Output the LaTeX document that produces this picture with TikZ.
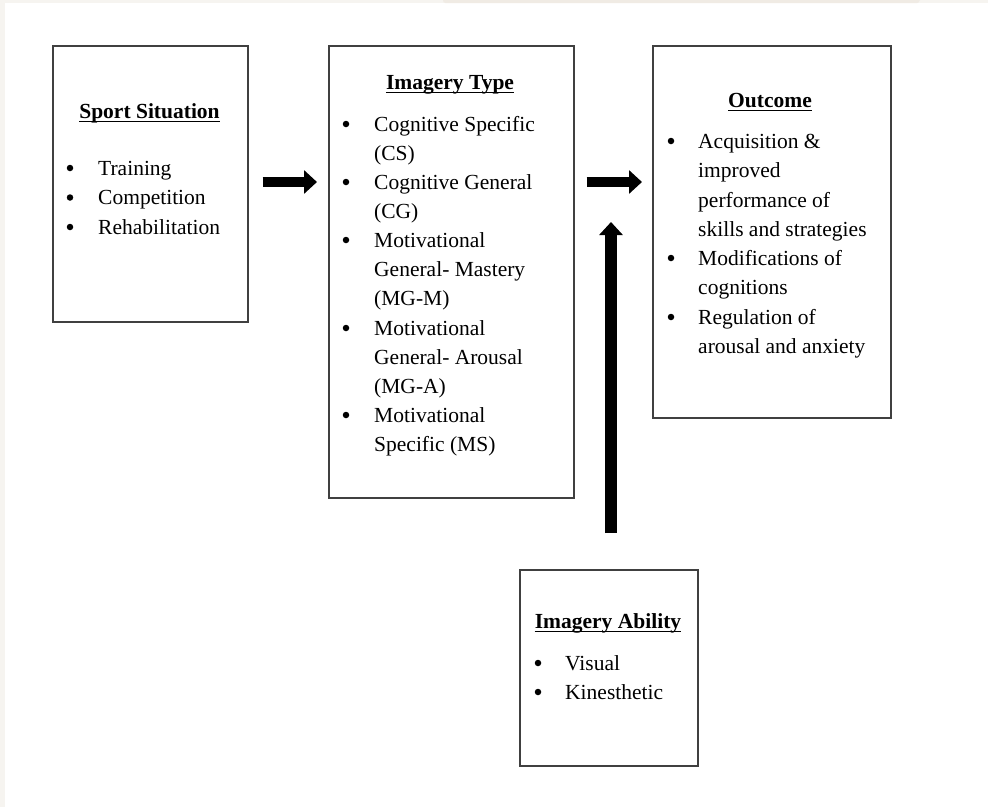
\documentclass[tikz,border=0pt]{standalone}
\usepackage{fontspec}
\setmainfont{Liberation Serif}
\usetikzlibrary{arrows.meta}
\definecolor{edge}{HTML}{F6F4F0}
\definecolor{tabc}{HTML}{F0EBE4}

\begin{document}
\begin{tikzpicture}[x=1pt,y=-1pt,
  box/.style={draw=black!75, line width=1.7pt, fill=white, anchor=north west, inner sep=0pt},
  txt/.style={anchor=base west, inner sep=0pt, font=\fontsize{21.5}{26}\selectfont},
  ttl/.style={anchor=base, inner sep=0pt, font=\fontsize{21.5}{26}\selectfont\bfseries},
  bul/.style={circle, fill=black, inner sep=0pt, minimum size=6.5pt},
  uline/.style={line width=1.5pt},
  bigarrow/.style={line width=10pt, -{Triangle[length=13pt,width=23pt]}}
]
\useasboundingbox (0,0) rectangle (988,807);
\fill[white] (0,0) rectangle (988,807);
% page edges
\fill[edge] (0,0) rectangle (5,807);
\fill[edge] (0,0) rectangle (988,3);
\fill[tabc] (443,0) -- (443,0.5) arc[start angle=180,end angle=90,radius=2.5] -- (917,3) arc[start angle=90,end angle=0,radius=2.5] -- (920,0) -- cycle;

% boxes
\node[box, minimum width=195pt, minimum height=276pt] (sit) at (52,45) {};
\node[box, minimum width=245pt, minimum height=452pt] (typ) at (328,45) {};
\node[box, minimum width=238pt, minimum height=372pt] (out) at (652,45) {};
\node[box, minimum width=178pt, minimum height=196pt] (abl) at (519,569) {};

% Sport Situation
\node[ttl] (sitT) at (149.5,118) {Sport Situation};
\draw[uline] ([yshift=-3.5pt]sitT.base west) -- ([yshift=-3.5pt]sitT.base east);
\node[bul] (sb1) at (70,168) {};
\node[txt] (s1) at (98,175) {Training};
\node[bul] (sb2) at (70,197.5) {};
\node[txt] (s2) at (98,204.5) {Competition};
\node[bul] (sb3) at (70,227) {};
\node[txt] (s3) at (98,234) {Rehabilitation};

% Imagery Type
\node[ttl] (typT) at (450,89) {Imagery Type};
\draw[uline] ([yshift=-3.5pt]typT.base west) -- ([yshift=-3.5pt]typT.base east);
\node[bul] (tb1) at (346,124) {};
\node[txt] (t1) at (374,131) {Cognitive Specific};
\node[txt] (t2) at (374,160) {(CS)};
\node[bul] (tb2) at (346,182) {};
\node[txt] (t3) at (374,189) {Cognitive General};
\node[txt] (t4) at (374,218) {(CG)};
\node[bul] (tb3) at (346,240) {};
\node[txt] (t5) at (374,247) {Motivational};
\node[txt] (t6) at (374,276) {General- Mastery};
\node[txt] (t7) at (374,305) {(MG-M)};
\node[bul] (tb4) at (346,328) {};
\node[txt] (t8) at (374,335) {Motivational};
\node[txt] (t9) at (374,364) {General- Arousal};
\node[txt] (t10) at (374,393) {(MG-A)};
\node[bul] (tb5) at (346,415) {};
\node[txt] (t11) at (374,422) {Motivational};
\node[txt] (t12) at (374,451) {Specific (MS)};

% Outcome
\node[ttl] (outT) at (770,107) {Outcome};
\draw[uline] ([yshift=-3.5pt]outT.base west) -- ([yshift=-3.5pt]outT.base east);
\node[bul] (ob1) at (671,141) {};
\node[txt] (o1) at (698,148) {Acquisition \&};
\node[txt] (o2) at (698,177) {improved};
\node[txt] (o3) at (698,207) {performance of};
\node[txt] (o4) at (698,236) {skills and strategies};
\node[bul] (ob2) at (671,258) {};
\node[txt] (o5) at (698,265) {Modifications of};
\node[txt] (o6) at (698,294) {cognitions};
\node[bul] (ob3) at (671,317) {};
\node[txt] (o7) at (698,324) {Regulation of};
\node[txt] (o8) at (698,353) {arousal and anxiety};

% Imagery Ability
\node[ttl] (ablT) at (608,628) {Imagery Ability};
\draw[uline] ([yshift=-3.5pt]ablT.base west) -- ([yshift=-3.5pt]ablT.base east);
\node[bul] (ab1) at (538,663) {};
\node[txt] (a1) at (565,670) {Visual};
\node[bul] (ab2) at (538,692) {};
\node[txt] (a2) at (565,699) {Kinesthetic};

% arrows
\coordinate (vtip) at (611,222);
\draw[bigarrow, shorten <=14pt, shorten >=11pt] (sit.east |- 0,182) -- (typ.west |- 0,182);
\draw[bigarrow, shorten <=12pt, shorten >=10pt] (typ.east |- 0,182) -- (out.west |- 0,182);
\draw[bigarrow, line width=12pt, shorten <=36pt] (abl.north -| vtip) -- (vtip);
\end{tikzpicture}
\end{document}
